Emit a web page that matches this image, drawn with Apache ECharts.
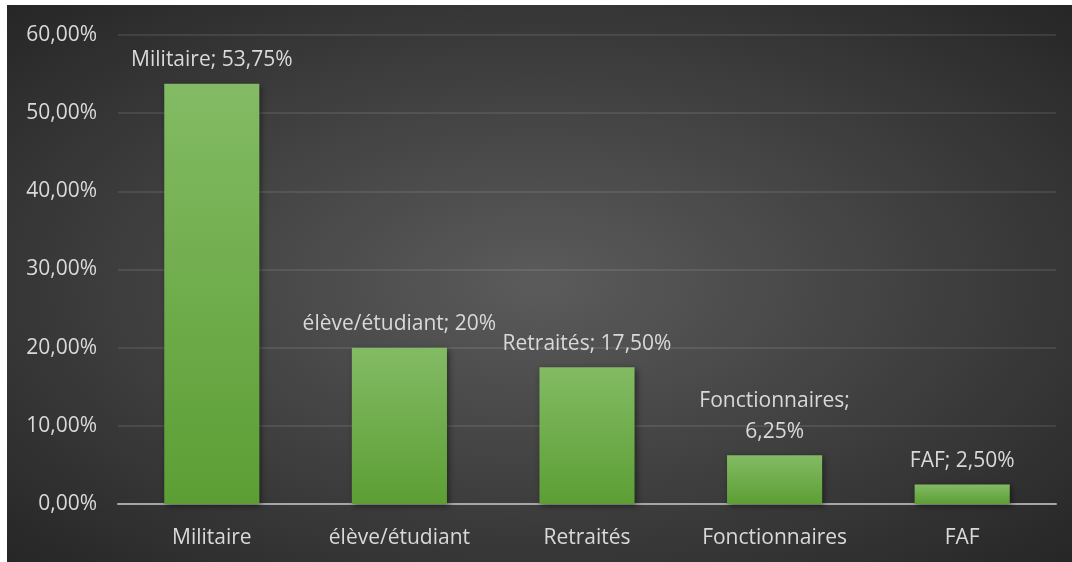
<!DOCTYPE html>
<html>
<head>
<meta charset="utf-8">
<script src="https://cdn.jsdelivr.net/npm/echarts@6/dist/echarts.min.js"></script>
<style>
  html, body { margin: 0; padding: 0; background: #ffffff; }
  #chart {
    position: absolute; left: 7px; top: 5px; width: 1065px; height: 557px;
    background: radial-gradient(ellipse at 50% 50%, #5b5b5b 0%, #464646 40%, #262626 100%);
  }
</style>
</head>
<body>
<div id="chart"></div>
<script>
// Categories and their shares (percent)
const categories = ['Militaire', 'élève/étudiant', 'Retraités', 'Fonctionnaires', 'FAF'];
const shares = [53.75, 20, 17.5, 6.25, 2.5];
const yTicks = [0, 10, 20, 30, 40, 50, 60];

const FONT = '"Open Sans", sans-serif';
const TEXT = '#d9d9d9';
const SIZE = 21;
const MAX_LABEL_WIDTH = 205;

function fmtPct(v, decimals) {
  return v.toFixed(decimals).replace('.', ',') + '%';
}
function fmtLabel(v) {
  return Number.isInteger(v) ? v + '%' : fmtPct(v, 2);
}

// Wrap a data label after the "; " when it is wider than the bar slot allows
const measureCtx = document.createElement('canvas').getContext('2d');
measureCtx.font = SIZE + 'px ' + FONT;
function dataLabel(name, value) {
  const oneLine = name + '; ' + fmtLabel(value);
  return measureCtx.measureText(oneLine).width > MAX_LABEL_WIDTH
    ? name + ';\n' + fmtLabel(value)
    : oneLine;
}

const chart = echarts.init(document.getElementById('chart'), null, { renderer: 'canvas' });
chart.setOption({
  backgroundColor: 'transparent',
  animation: false,
  grid: { left: 111, right: 16, top: 30, bottom: 58 },
  xAxis: {
    type: 'category',
    data: categories,
    axisTick: { show: false },
    axisLine: { lineStyle: { color: '#a6a6a6', width: 2 } },
    axisLabel: {
      color: TEXT, fontFamily: FONT, fontSize: SIZE, margin: 24,
      interval: 0, hideOverlap: false
    }
  },
  yAxis: {
    type: 'value',
    min: yTicks[0],
    max: yTicks[yTicks.length - 1],
    interval: 10,
    axisLine: { show: false },
    axisTick: { show: false },
    splitLine: { lineStyle: { color: 'rgba(255,255,255,0.12)', width: 1.5 } },
    axisLabel: {
      color: TEXT, fontFamily: FONT, fontSize: SIZE, margin: 21,
      formatter: v => fmtPct(v, 2)
    }
  },
  series: [{
    type: 'bar',
    data: shares,
    barWidth: '50.7%',
    itemStyle: {
      color: new echarts.graphic.LinearGradient(0, 0, 0, 1, [
        { offset: 0, color: '#83bb64' },
        { offset: 1, color: '#5c9e34' }
      ]),
      shadowColor: 'rgba(0,0,0,0.45)',
      shadowBlur: 6,
      shadowOffsetX: 2,
      shadowOffsetY: 2
    },
    label: {
      show: true,
      position: 'top',
      distance: 8,
      color: TEXT,
      fontFamily: FONT,
      fontSize: SIZE,
      lineHeight: 31,
      align: 'center',
      formatter: p => dataLabel(p.name, p.value)
    }
  }]
});
</script>
</body>
</html>
